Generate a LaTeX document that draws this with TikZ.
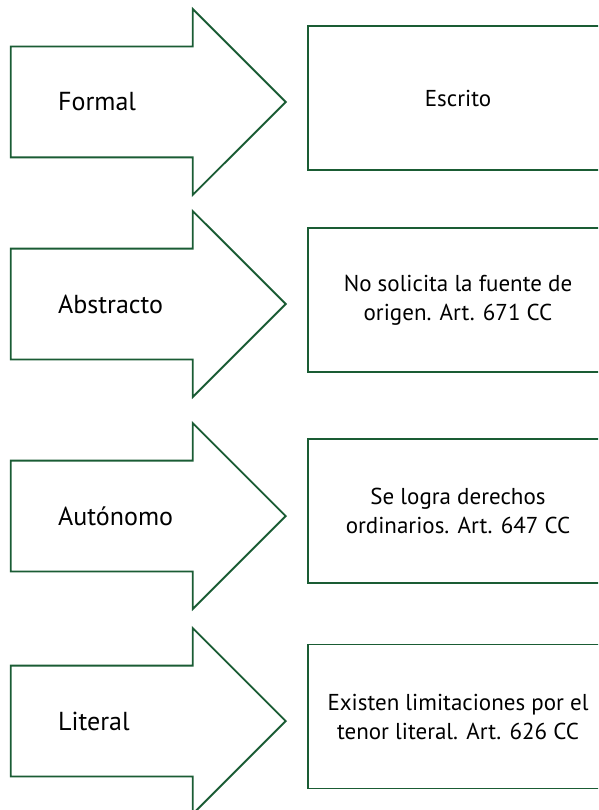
\documentclass[tikz,border=0pt]{standalone}
\usepackage{fontspec}
\setmainfont{PT Sans}
\usetikzlibrary{shapes.arrows}
\definecolor{gr}{RGB}{26, 92, 52}

\begin{document}
\begin{tikzpicture}[
  arr/.style={single arrow, draw=gr, line width=1.8pt, inner sep=0pt, text height=54.5pt, text depth=54.5pt, single arrow head extend=37.5pt, single arrow tip angle=90, minimum height=275pt, anchor=tip},
  lbl/.style={anchor=west, inner sep=0pt, font=\fontsize{26}{31}\selectfont},
  box/.style={rectangle, draw=gr, line width=1.8pt, minimum width=300pt, minimum height=144pt, align=center, font=\fontsize{23}{29}\selectfont}]
\clip (0pt, 0pt) rectangle (598pt, -810pt);
\node (a1) [arr] at (287pt, -102pt) {};
\node (a2) [arr] at (287pt, -304pt) {};
\node (a3) [arr] at (287pt, -516pt) {};
\node (a4) [arr] at (287pt, -721pt) {};
\node (l1) [lbl] at (58pt, -102pt) {Formal};
\node (l2) [lbl] at (58pt, -304pt) {Abstracto};
\node (l3) [lbl] at (58pt, -516pt) {Autónomo};
\node (l4) [lbl] at (58pt, -721pt) {Literal};
\node (b1) [box] at (458pt, -98pt) {Escrito};
\node (b2) [box] at (458pt, -300pt) {No solicita la fuente de\\origen. Art. 671 CC};
\node (b3) [box] at (458pt, -511pt) {Se logra derechos\\ordinarios. Art. 647 CC};
\node (b4) [box] at (458pt, -716.5pt) {Existen limitaciones por el\\tenor literal. Art. 626 CC};
\end{tikzpicture}
\end{document}
